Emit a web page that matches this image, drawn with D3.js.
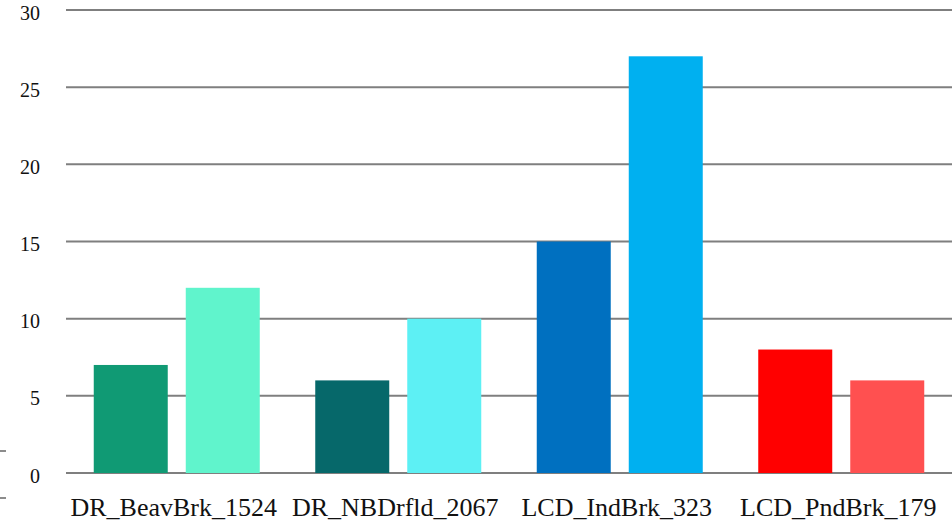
<!DOCTYPE html>
<html><head><meta charset="utf-8">
<script src="https://cdn.jsdelivr.net/npm/d3@7"></script>
<style>body{margin:0;background:#fff}svg{display:block}text{font-family:"Liberation Serif","DejaVu Serif",serif;font-variant-numeric:oldstyle-nums}</style>
</head><body>
<svg id="c" width="952" height="527"></svg>
<script>
const categories = ["DR_BeavBrk_1524","DR_NBDrfld_2067","LCD_IndBrk_323","LCD_PndBrk_179"];
const seriesA = [7, 6, 15, 8];
const seriesB = [12, 10, 27, 6];
const colorsA = ["#109a74","#06686a","#0070c0","#ff0000"];
const colorsB = ["#60f4cc","#5df0f4","#00b0f0","#ff5050"];
const yTicks = [0,5,10,15,20,25,30];

const svg = d3.select("#c");
const x = d3.scaleBand().domain(categories).range([66, 952]).paddingInner(0).paddingOuter(0);
const y = d3.scaleLinear().domain([0,30]).range([473, 10]);
const inner = d3.scaleBand().domain([0,1]).range([0, x.bandwidth()]).paddingInner(0.1957).paddingOuter(0.3016);

// gridlines
svg.append("g").selectAll("line").data(yTicks).join("line")
  .attr("x1", 66).attr("x2", 952)
  .attr("y1", d => y(d)).attr("y2", d => y(d))
  .attr("stroke", "#7f7f7f").attr("stroke-width", 2);

// y labels
svg.append("g").selectAll("text").data(yTicks).join("text")
  .attr("x", 40).attr("y", d => y(d) + 9.5)
  .attr("text-anchor", "end").attr("font-size", 20).attr("fill", "#111")
  .text(d => d);

// bars
const g = svg.append("g");
categories.forEach((c, i) => {
  [[seriesA[i], colorsA[i]], [seriesB[i], colorsB[i]]].forEach(([v, col], j) => {
    g.append("rect")
      .attr("x", x(c) + inner(j)).attr("width", inner.bandwidth())
      .attr("y", y(v)).attr("height", y(0) - y(v))
      .attr("fill", col);
  });
});

// x labels
svg.append("g").selectAll("text").data(categories).join("text")
  .attr("x", d => x(d) + x.bandwidth()/2 - 3).attr("y", 516)
  .attr("text-anchor", "middle").attr("font-size", 26).attr("fill", "#111")
  .text(d => d);

// small stray ticks at left edge
svg.append("g").selectAll("line").data([451, 498]).join("line")
  .attr("x1", 0).attr("x2", 6).attr("y1", d => d).attr("y2", d => d)
  .attr("stroke", "#666").attr("stroke-width", 1.5);
</script>
</body></html>
